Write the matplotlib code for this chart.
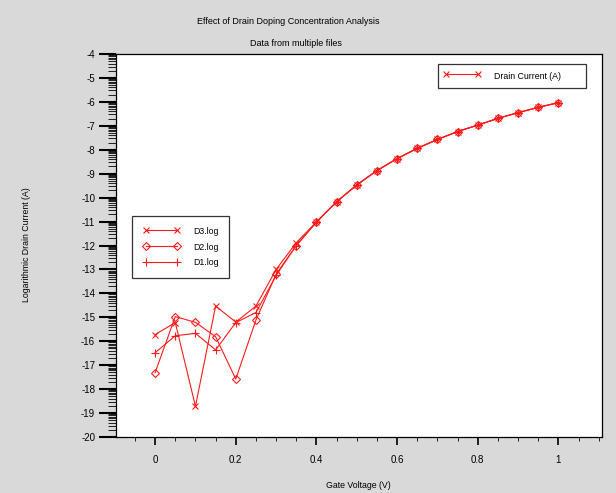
import numpy as np
import matplotlib
matplotlib.use("Agg")
import matplotlib.pyplot as plt
from matplotlib.ticker import FixedLocator, MultipleLocator

plt.rcParams['font.family'] = ['Liberation Sans', 'DejaVu Sans']
plt.rcParams['axes.unicode_minus'] = False

# gate voltage sweep
gate_v = [0.0, 0.05, 0.1, 0.15, 0.2, 0.25, 0.3, 0.35, 0.4, 0.45, 0.5,
          0.55, 0.6, 0.65, 0.7, 0.75, 0.8, 0.85, 0.9, 0.95, 1.0]

# log10 of drain current
tail = [-11.02, -10.17, -9.47, -8.87, -8.37, -7.94, -7.57, -7.24,
        -6.97, -6.69, -6.45, -6.23, -6.03]
d3 = [-15.72, -15.22, -18.72, -14.53, -15.2, -14.53, -13.0, -11.88] + tail
d2 = [-17.31, -14.97, -15.21, -15.81, -17.58, -15.11, -13.2, -12.0] + tail
d1 = [-16.48, -15.77, -15.67, -16.36, -15.22, -14.8, -13.25, -12.0] + tail

bg = '#d9d9d9'
red = '#ff1a1a'

fig = plt.figure(figsize=(6.16, 4.93), dpi=100, facecolor=bg)
ax = fig.add_axes([116/616, 1 - 437/493, 486/616, 383/493])
ax.set_facecolor('white')

l3, = ax.plot(gate_v, d3, color=red, lw=0.8, marker='x', ms=5, mew=0.8)
l2, = ax.plot(gate_v, d2, color=red, lw=0.8, marker='D', ms=4, mew=0.8,
              mfc='none')
l1, = ax.plot(gate_v, d1, color=red, lw=0.8, marker='+', ms=6, mew=0.8)

ax.set_xlim(-0.097, 1.108)
ax.set_ylim(-20, -4)

ax.xaxis.set_minor_locator(MultipleLocator(0.05))
ax.set_xticks([0, 0.2, 0.4, 0.6, 0.8, 1.0])
ax.set_xticklabels(['0', '0.2', '0.4', '0.6', '0.8', '1'])
ax.yaxis.set_major_locator(MultipleLocator(1))
minors = [n + np.log10(k) for n in range(-20, -4) for k in range(2, 10)]
ax.yaxis.set_minor_locator(FixedLocator(minors))

ax.tick_params(axis='y', which='major', direction='out', length=12, width=1.5,
               labelsize=7, pad=3)
ax.tick_params(axis='y', which='minor', direction='out', length=6, width=0.6)
ax.tick_params(axis='x', which='major', direction='out', length=6, width=1.2,
               labelsize=7, pad=7)
ax.tick_params(axis='x', which='minor', direction='out', length=3, width=0.6)
for s in ax.spines.values():
    s.set_linewidth(0.9)

leg1 = ax.legend([l3], ['Drain Current (A)'], loc='upper left',
                 bbox_to_anchor=(0.663, 0.898, 0.304, 0.076), mode='expand',
                 fontsize=6.3, frameon=True, fancybox=False, edgecolor='black',
                 numpoints=2, handlelength=4.2, handleheight=2.0,
                 borderpad=0.6, handletextpad=1.6, borderaxespad=0)
leg1.get_frame().set_linewidth(0.9)
ax.add_artist(leg1)
leg2 = ax.legend([l3, l2, l1], ['D3.log', 'D2.log', 'D1.log'],
                 loc='upper left', bbox_to_anchor=(0.033, 0.577),
                 fontsize=6.3, frameon=True, fancybox=False, edgecolor='black',
                 numpoints=2, handlelength=4.2, handleheight=1.0,
                 borderpad=1.25, handletextpad=1.5, labelspacing=0.75,
                 borderaxespad=0)
leg2.get_frame().set_linewidth(0.9)

fig.text(0.468, 1 - 22/493, 'Effect of Drain Doping Concentration Analysis',
         ha='center', va='center', fontsize=6.5)
fig.text(0.48, 1 - 44/493, 'Data from multiple files',
         ha='center', va='center', fontsize=6.5)
fig.text(358/616, 1 - 485/493, 'Gate Voltage (V)', ha='center', va='center',
         fontsize=6.3)
fig.text(27/616, 1 - 245/493, 'Logarithmic Drain Current (A)', rotation=90,
         ha='center', va='center', fontsize=6.3)

fig.savefig('out.png', dpi=100, facecolor=bg)
